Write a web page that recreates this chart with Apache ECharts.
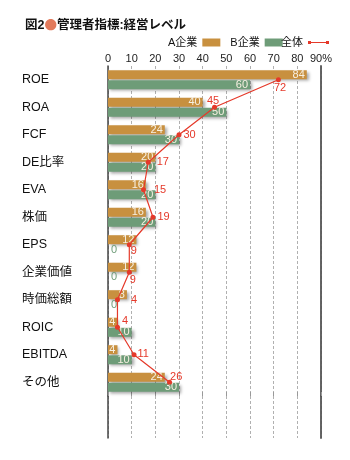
<!DOCTYPE html>
<html><head><meta charset="utf-8">
<script src="https://cdn.jsdelivr.net/npm/echarts@6/dist/echarts.min.js"></script>
<style>html,body{margin:0;padding:0;background:#fff}#c{width:350px;height:460px}</style>
</head><body><div id="c"></div>
<script>
const categories = ['ROE','ROA','FCF','DE比率','EVA','株価','EPS','企業価値','時価総額','ROIC','EBITDA','その他'];
const companyA = [84,40,24,20,16,16,12,12,8,4,4,24];
const companyB = [60,50,30,20,20,20,0,0,0,10,10,30];
const overall = [72,45,30,17,15,19,9,9,4,4,11,26];
const xTicks = [0,10,20,30,40,50,60,70,80,90];

const FONT = "'Liberation Sans','Noto Sans CJK JP',sans-serif";
const TAN = '#c8903f', GREEN = '#6e9c78', RED = '#e5392a';
// label offsets for the overall line (style only)
const lineLabelOffsets = [[-9,8],[-12,-6],[0,0],[4,0],[6,0],[0,0],[-3,6],[-4,8],[9,0],[0,-6],[-1,-1],[-4,-5]];

const chart = echarts.init(document.getElementById('c'), null, {renderer:'canvas'});
const barShadow = {shadowColor:'rgba(0,0,0,0.35)', shadowBlur:3, shadowOffsetX:2, shadowOffsetY:2};
const dashed = {show:true, lineStyle:{color:'#b0b0b0', type:[3,2], width:1}};

chart.setOption({
  backgroundColor:'#fff',
  animation:false,
  textStyle:{fontFamily:FONT},
  title:{
    left:20, top:14,
    text:'{a|図2}{b|●}{a|管理者指標:経営レベル}',
    textStyle:{rich:{
      a:{fontSize:12.5, fontWeight:'bold', color:'#111', fontFamily:FONT, verticalAlign:'middle'},
      b:{fontSize:12.5, color:'#e27a5c', fontFamily:"'Noto Sans CJK JP',sans-serif", verticalAlign:'middle'}
    }}
  },
  legend:[{
    data:['A企業','B企業'], left:168, top:37, padding:0, align:'right', orient:'horizontal',
    itemWidth:18, itemHeight:8, itemGap:10, icon:'rect',
    textStyle:{fontSize:11, color:'#111', fontFamily:FONT}
  },{
    data:[{name:'全体', icon:'path://M0,0L3,0L3,3L0,3Z M3,1L18,1L18,2L3,2Z M18,0L21,0L21,3L18,3Z'}],
    left:281, top:37, padding:0, align:'right', itemWidth:21, itemHeight:3,
    textStyle:{fontSize:11, color:'#111', fontFamily:FONT}
  }],
  grid:[
    {left:108, right:29, top:66, height:330},
    {left:108, right:29, top:396, height:42}
  ],
  xAxis:[{
    type:'value', gridIndex:0, position:'top', min:xTicks[0], max:xTicks[xTicks.length-1], interval:10,
    axisLine:{show:false},
    axisTick:{show:true, length:4, lineStyle:{color:'#999'}},
    axisLabel:{margin:2, fontSize:11, color:'#222', formatter:v => v===90 ? v+'%' : String(v)},
    splitLine:dashed
  },{
    type:'value', gridIndex:1, min:xTicks[0], max:xTicks[xTicks.length-1], interval:10,
    axisLine:{show:false}, axisTick:{show:false}, axisLabel:{show:false},
    splitLine:dashed
  }],
  yAxis:[{
    type:'category', gridIndex:0, data:categories, inverse:true,
    axisLine:{show:true, lineStyle:{color:'#444', width:1.5}},
    axisTick:{show:false},
    axisLabel:{align:'left', margin:86, fontSize:12.5, color:'#111', fontFamily:FONT}
  },{
    type:'value', gridIndex:0, position:'right',
    axisLine:{show:true, lineStyle:{color:'#555', width:1.8}},
    axisTick:{show:false}, axisLabel:{show:false}, splitLine:{show:false}
  },{
    type:'value', gridIndex:1,
    axisLine:{show:true, lineStyle:{color:'#444', width:1.5}},
    axisTick:{show:false}, axisLabel:{show:false}, splitLine:{show:false}
  },{
    type:'value', gridIndex:1, position:'right',
    axisLine:{show:true, lineStyle:{color:'#555', width:1.8}},
    axisTick:{show:false}, axisLabel:{show:false}, splitLine:{show:false}
  }],
  series:[{
    name:'A企業', type:'bar', xAxisIndex:0, yAxisIndex:0,
    data:companyA, barWidth:9, barGap:'12%',
    itemStyle:Object.assign({color:TAN}, barShadow),
    label:{show:true, position:'insideRight', distance:2, color:'#f7f0e2', fontSize:11}
  },{
    name:'B企業', type:'bar', xAxisIndex:0, yAxisIndex:0,
    data:companyB.map(v => v===0 ? {value:v, label:{position:'right', distance:3, color:GREEN}} : v),
    barWidth:9,
    itemStyle:Object.assign({color:GREEN}, barShadow),
    label:{show:true, position:'insideRight', distance:2, color:'#f7f0e2', fontSize:11}
  },{
    name:'全体', type:'line', xAxisIndex:0, yAxisIndex:0, z:5,
    data:overall.map((v,i) => ({value:v, label:{offset:lineLabelOffsets[i]}})),
    symbol:'circle', symbolSize:5,
    itemStyle:{color:RED}, lineStyle:{color:RED, width:1.2},
    label:{show:true, position:'right', distance:2, color:RED, fontSize:11}
  }]
});
</script></body></html>
